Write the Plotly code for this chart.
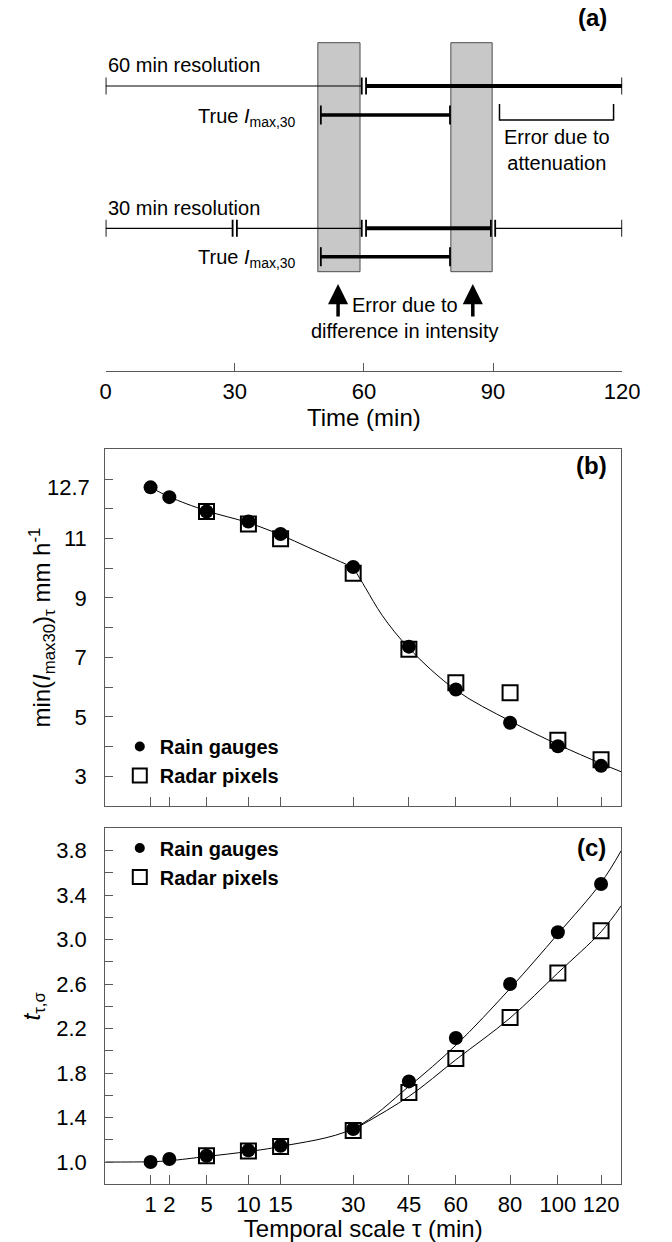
import numpy as np
import plotly.graph_objects as go

FONT = "Liberation Sans, Arial, Helvetica, sans-serif"
AXIS_COLOR = "#595959"

# ---------------- panel (a): sampling windows along the time axis (min)
TIME_TICKS = [0, 30, 60, 90, 120]
RES60_EDGES = [0, 60, 120]
RES60_BOLD = [False, True]
RES30_EDGES = [0, 30, 60, 90, 120]
RES30_BOLD = [False, False, True, False]
TRUE_IMAX30 = [50, 80]
SHADE_START = [49.3, 80.2]
SHADE_END = [59.1, 89.8]
ATTENUATION = [91.5, 118]
ARROW_AT = [54, 85.3]

# ---------------- panels (b) and (c): temporal scale tau (min)
TAU_TICKS = [1, 2, 5, 10, 15, 30, 45, 60, 80, 100, 120]
GAUGE_TAU = [1, 2, 5, 10, 15, 30, 45, 60, 80, 100, 120]
RADAR_TAU = [5, 10, 15, 30, 45, 60, 80, 100, 120]

# (b) minimum of I_max30 (mm h-1)
GAUGE_IMIN = [12.72, 12.39, 11.91, 11.57, 11.15, 10.04, 7.36, 5.92, 4.80, 4.01, 3.35]
RADAR_IMIN = [11.91, 11.49, 10.99, 9.83, 7.27, 6.15, 5.81, 4.21, 3.56]
# fitted curve: gentle branch up to 30 min, steep branch beyond
FIT_B_SHORT_TAU = [1, 2, 5, 10, 15, 20, 25, 30]
FIT_B_SHORT_VAL = [12.72, 12.40, 11.93, 11.53, 11.12, 10.71, 10.35, 10.03]
FIT_B_LONG_TAU = [30, 33, 37.5, 45, 60, 80, 100, 120, 130]
FIT_B_LONG_VAL = [10.03, 9.35, 8.40, 7.31, 5.90, 4.86, 4.07, 3.43, 3.15]
Y_MAJOR_B = [3, 5, 7, 9, 11]
Y_MINOR_B = [4, 6, 8, 10, 12, 13]
Y_TOP_LABEL_B = 12.7

# (c) t_tau,sigma
GAUGE_T = [1.00, 1.027, 1.057, 1.105, 1.147, 1.297, 1.725, 2.115, 2.60, 3.065, 3.50]
RADAR_T = [1.057, 1.10, 1.14, 1.284, 1.626, 1.93, 2.30, 2.70, 3.08]
FIT_C_GAUGE_TAU = [0, 1, 2, 5, 10, 15, 30, 45, 60, 80, 100, 120, 130]
FIT_C_GAUGE_VAL = [1.0, 1.003, 1.012, 1.05, 1.095, 1.14, 1.30, 1.68, 2.05, 2.56, 3.05, 3.51, 3.80]
FIT_C_RADAR_TAU = [30, 45, 60, 80, 100, 120, 130]
FIT_C_RADAR_VAL = [1.29, 1.59, 1.92, 2.295, 2.70, 3.07, 3.305]
Y_TICKS_C = [1.0, 1.4, 1.8, 2.2, 2.6, 3.0, 3.4, 3.8]

W, H = 672, 1242


def py(pix):
    """paper y from a pixel offset measured from the top"""
    return 1 - pix / H


def sq(v):
    return np.sqrt(np.asarray(v, dtype=float))


fig = go.Figure()

# ---------------------------------------------------------------- panel (a)
ROW60_Y, ROW30_Y = 86, 228.3
TRUE_TOP_Y, TRUE_BOT_Y = 115, 256.7
SHADE_Y0, SHADE_Y1 = 42.7, 271.7
ATTEN_Y = 120
GAP = 0.5


def add_seg(x0, x1, y, width):
    fig.add_trace(go.Scatter(x=[x0, x1], y=[y, y], mode="lines",
                             line=dict(color="black", width=width),
                             xaxis="x", yaxis="y", showlegend=False, hoverinfo="skip"))


def add_bars(xs, y, half, width=1.8):
    bx, by = [], []
    for x in xs:
        bx += [x, x, None]
        by += [y - half, y + half, None]
    fig.add_trace(go.Scatter(x=bx, y=by, mode="lines",
                             line=dict(color="black", width=width),
                             xaxis="x", yaxis="y", showlegend=False, hoverinfo="skip"))


def add_row(edges, bold, y):
    first, last = edges[0], edges[-1]
    ends = []
    for i in range(len(edges) - 1):
        a = edges[i] + (GAP if edges[i] > first else 0)
        b = edges[i + 1] - (GAP if edges[i + 1] < last else 0)
        add_seg(a, b, y, 4 if bold[i] else 1.2)
        ends += [a, b]
    add_bars(ends, y, 8.5)


add_row(RES60_EDGES, RES60_BOLD, ROW60_Y)
add_row(RES30_EDGES, RES30_BOLD, ROW30_Y)
for ty in (TRUE_TOP_Y, TRUE_BOT_Y):
    add_seg(TRUE_IMAX30[0], TRUE_IMAX30[1], ty, 3.5)
    add_bars(TRUE_IMAX30, ty, 9.5)

# attenuation bracket
add_seg(ATTENUATION[0], ATTENUATION[1], ATTEN_Y, 1.3)
fig.add_trace(go.Scatter(x=[ATTENUATION[0], ATTENUATION[0], None, ATTENUATION[1], ATTENUATION[1]],
                         y=[ATTEN_Y - 16, ATTEN_Y + 0.6, None, ATTEN_Y - 16, ATTEN_Y + 0.6],
                         mode="lines", line=dict(color="black", width=1.5),
                         xaxis="x", yaxis="y", showlegend=False, hoverinfo="skip"))

shapes = []
for s0, s1 in zip(SHADE_START, SHADE_END):
    shapes.append(dict(type="rect", xref="x", yref="y", x0=s0, x1=s1, y0=SHADE_Y0, y1=SHADE_Y1,
                       fillcolor="#c8c8c8", line=dict(color="#4d4d4d", width=1), layer="below"))

annotations = []
txt = dict(family=FONT, size=20, color="black")
annotations += [
    dict(xref="x", yref="y", x=RES60_EDGES[0], y=65, xanchor="left", yanchor="middle",
         text="60 min resolution", showarrow=False, font=txt),
    dict(xref="x", yref="y", x=RES30_EDGES[0], y=208, xanchor="left", yanchor="middle",
         text="30 min resolution", showarrow=False, font=txt),
]
for ty in (TRUE_TOP_Y, TRUE_BOT_Y):
    annotations.append(dict(xref="x", yref="y", x=TRUE_IMAX30[0], y=ty + 2, xshift=-23,
                            xanchor="right", yanchor="middle",
                            text="True <i>I</i><sub>max,30</sub>", showarrow=False, font=txt))
annotations.append(dict(xref="x", yref="y", x=sum(ATTENUATION) / 2, y=150, xanchor="center",
                        yanchor="middle", text="Error due to<br>attenuation", showarrow=False, font=txt))
annotations.append(dict(xref="x", yref="y", x=sum(ARROW_AT) / 2, y=318, xanchor="center",
                        yanchor="middle", text="Error due to<br>difference in intensity",
                        showarrow=False, font=txt))
for t in ARROW_AT:
    annotations.append(dict(xref="x", yref="y", axref="x", ayref="y", x=t, y=284, ax=t, ay=318,
                            text="", showarrow=True, arrowhead=2, arrowsize=1.15,
                            arrowwidth=3.5, arrowcolor="black"))

lab = dict(family=FONT, size=24, color="black")
for label, xp, yp in (("(a)", 608, 18), ("(b)", 607, 465), ("(c)", 607, 847)):
    annotations.append(dict(xref="paper", yref="paper", x=xp / W, y=py(yp), xanchor="center",
                            yanchor="middle", text=f"<b>{label}</b>", showarrow=False, font=lab))

# ---------------------------------------------------------------- panel (b)
for ftau, fval in ((FIT_B_SHORT_TAU, FIT_B_SHORT_VAL), (FIT_B_LONG_TAU, FIT_B_LONG_VAL)):
    fig.add_trace(go.Scatter(x=sq(ftau), y=fval, mode="lines",
                             line=dict(color="black", width=1, shape="spline"),
                             xaxis="x2", yaxis="y2", showlegend=False, hoverinfo="skip"))
fig.add_trace(go.Scatter(x=sq(RADAR_TAU), y=RADAR_IMIN, mode="markers",
                         marker=dict(symbol="square-open", size=15, color="black", line=dict(width=2)),
                         xaxis="x2", yaxis="y2", showlegend=False))
fig.add_trace(go.Scatter(x=sq(GAUGE_TAU), y=GAUGE_IMIN, mode="markers",
                         marker=dict(symbol="circle", size=14, color="black"),
                         xaxis="x2", yaxis="y2", showlegend=False))

# ---------------------------------------------------------------- panel (c)
fig.add_trace(go.Scatter(x=sq(FIT_C_GAUGE_TAU), y=FIT_C_GAUGE_VAL, mode="lines",
                         line=dict(color="black", width=1, shape="spline"),
                         xaxis="x3", yaxis="y3", showlegend=False, hoverinfo="skip"))
fig.add_trace(go.Scatter(x=sq(FIT_C_RADAR_TAU), y=FIT_C_RADAR_VAL, mode="lines",
                         line=dict(color="black", width=1, shape="spline"),
                         xaxis="x3", yaxis="y3", showlegend=False, hoverinfo="skip"))
fig.add_trace(go.Scatter(x=sq(RADAR_TAU), y=RADAR_T, mode="markers",
                         marker=dict(symbol="square-open", size=15, color="black", line=dict(width=2)),
                         xaxis="x3", yaxis="y3", showlegend=False))
fig.add_trace(go.Scatter(x=sq(GAUGE_TAU), y=GAUGE_T, mode="markers",
                         marker=dict(symbol="circle", size=14, color="black"),
                         xaxis="x3", yaxis="y3", showlegend=False))

# legend keys for (b) and (c)
for leg, xa, ya in (("legend", "x2", "y2"), ("legend2", "x3", "y3")):
    fig.add_trace(go.Scatter(x=[None], y=[None], mode="markers", name="<b>Rain gauges</b>",
                             marker=dict(symbol="circle", size=10, color="black"),
                             xaxis=xa, yaxis=ya, legend=leg))
    fig.add_trace(go.Scatter(x=[None], y=[None], mode="markers", name="<b>Radar pixels</b>",
                             marker=dict(symbol="square-open", size=14, color="black", line=dict(width=2)),
                             xaxis=xa, yaxis=ya, legend=leg))

X_DOM = [103 / W, 638 / W]
S_RANGE = [0, 11.40]

annotations.append(dict(xref="paper", yref="y2", x=X_DOM[0], y=Y_TOP_LABEL_B, xanchor="right",
                        yanchor="middle", xshift=-13, text=f"{Y_TOP_LABEL_B:g}", showarrow=False,
                        font=dict(family=FONT, size=22, color="black")))

tick_font = dict(family=FONT, size=22, color="black")
title_font = dict(family=FONT, size=24, color="black")

common_ax = dict(showline=True, linecolor=AXIS_COLOR, linewidth=1.3, ticks="inside",
                 tickcolor=AXIS_COLOR, tickwidth=1.2, showgrid=False, zeroline=False,
                 tickfont=tick_font, title_font=title_font)

legend_common = dict(bgcolor="rgba(0,0,0,0)", borderwidth=0, xanchor="left", yanchor="top",
                     font=dict(family=FONT, size=20, color="black"), tracegroupgap=0,
                     itemclick=False)

fig.update_layout(
    width=W, height=H, margin=dict(l=0, r=0, t=0, b=0),
    paper_bgcolor="white", plot_bgcolor="white",
    font=dict(family=FONT, color="black"),
    xaxis=dict(domain=[103.3 / W, 639 / W], range=[0, 120], anchor="y",
               tickmode="array", tickvals=TIME_TICKS, ticklen=8, ticklabelstandoff=1,
               title=dict(text="Time (min)", standoff=2), **common_ax),
    yaxis=dict(domain=[py(370.7), 1], range=[370.7, 0], visible=False, anchor="x"),
    xaxis2=dict(domain=X_DOM, range=S_RANGE, anchor="y2", mirror=True,
                tickmode="array", tickvals=sq(TAU_TICKS), showticklabels=False, ticklen=9,
                **common_ax),
    yaxis2=dict(domain=[py(806), py(449.3)], range=[2, 14], anchor="x2", mirror=True,
                tickmode="array", tickvals=Y_MAJOR_B, ticklen=8, ticklabelstandoff=13,
                minor=dict(tickmode="array", tickvals=Y_MINOR_B, ticks="inside", ticklen=8,
                           tickcolor=AXIS_COLOR, tickwidth=1.2),
                title=dict(text="min(<i>I</i><sub>max30</sub>)<sub>τ</sub> mm h<sup>-1</sup>",
                           standoff=6),
                **common_ax),
    xaxis3=dict(domain=X_DOM, range=S_RANGE, anchor="y3", mirror=True,
                tickmode="array", tickvals=sq(TAU_TICKS), ticktext=[str(t) for t in TAU_TICKS],
                ticklen=9, ticklabelstandoff=0,
                title=dict(text="Temporal scale τ (min)", standoff=1), **common_ax),
    yaxis3=dict(domain=[py(1184.3), py(828.3)], range=[0.8, 4.0], anchor="x3", mirror=True,
                tickmode="array", tickvals=Y_TICKS_C, ticktext=[f"{v:.1f}" for v in Y_TICKS_C],
                ticklen=8, ticklabelstandoff=13,
                minor=dict(tickmode="linear", tick0=0.8, dtick=0.2, ticks="inside", ticklen=8,
                           tickcolor=AXIS_COLOR, tickwidth=1.2),
                title=dict(text="<i>t</i><sub>τ,σ</sub>", standoff=8),
                **common_ax),
    legend=dict(x=118 / W, y=py(727), **legend_common),
    legend2=dict(x=118 / W, y=py(828.5), **legend_common),
    shapes=shapes,
    annotations=annotations,
)

fig.write_html("out.html")
